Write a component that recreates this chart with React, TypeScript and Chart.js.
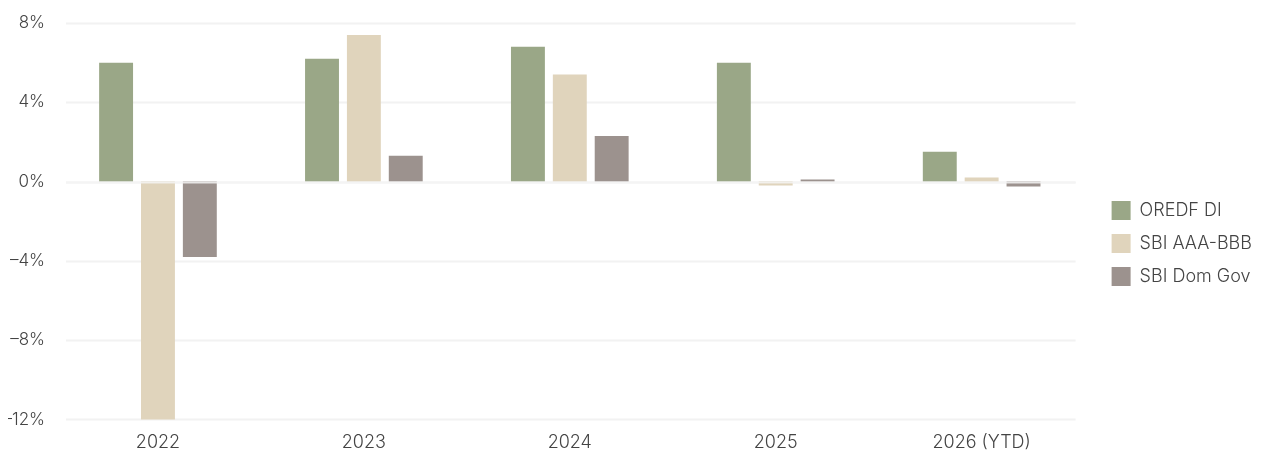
import React, { useEffect, useRef } from "react";
import { Chart, registerables } from "chart.js";

Chart.register(...registerables);

const categories = ["2022", "2023", "2024", "2025", "2026 (YTD)"];
const oredfDI = [6.0, 6.2, 6.8, 6.0, 1.5];
const sbiAAABBB = [-12.3, 7.4, 5.4, -0.2, 0.2];
const sbiDomGov = [-3.8, 1.3, 2.3, 0.1, -0.25];
const yTicks = [-12, -8, -4, 0, 4, 8];

const seriesNames = ["OREDF DI", "SBI AAA-BBB", "SBI Dom Gov"];
const seriesColors = ["#9AA787", "#E0D4BC", "#9C928E"];

const LEGEND_GAP = 13;

const gridPlugin = {
  id: "customGrid",
  beforeLayout(chart: any) {
    const lg = chart.legend;
    if (lg && !lg._patched) {
      lg._patched = true;
      const origFit = lg.fit.bind(lg);
      lg.fit = function () {
        origFit();
        this.width += LEGEND_GAP;
      };
      const origDraw = lg.draw.bind(lg);
      lg.draw = function (...args: any[]) {
        const ctx = this.ctx;
        ctx.save();
        ctx.translate(LEGEND_GAP, 0);
        origDraw(...args);
        ctx.restore();
      };
    }
  },
  beforeDatasetsDraw(chart: any) {
    const { ctx, chartArea, scales } = chart;
    const y = scales.y;
    ctx.save();
    ctx.strokeStyle = "#F2F2F2";
    ctx.lineWidth = 2;
    yTicks.forEach((v) => {
      const py = Math.round(y.getPixelForValue(v)) + 0.5;
      ctx.beginPath();
      ctx.moveTo(chartArea.left + 11, py);
      ctx.lineTo(chartArea.right - 9, py);
      ctx.stroke();
    });
    ctx.restore();
  },
  afterDatasetsDraw(chart: any) {
    const { ctx, chartArea, scales } = chart;
    const y = scales.y;
    ctx.save();
    ctx.strokeStyle = "rgba(245,245,245,0.85)";
    ctx.lineWidth = 2;
    const py = Math.round(y.getPixelForValue(0)) + 0.5;
    ctx.beginPath();
    ctx.moveTo(chartArea.left + 11, py);
    ctx.lineTo(chartArea.right - 9, py);
    ctx.stroke();
    ctx.restore();
  },
};

const FONT = { family: "Inter", size: 18, weight: 300 } as any;

export default function App() {
  const ref = useRef<HTMLCanvasElement>(null);
  useEffect(() => {
    if (!ref.current) return;
    const values = [oredfDI, sbiAAABBB, sbiDomGov];
    const chart = new Chart(ref.current, {
      type: "bar",
      data: {
        labels: categories,
        datasets: values.map((d, i) => ({
          label: seriesNames[i],
          data: d,
          backgroundColor: seriesColors[i],
          borderWidth: 0,
          barPercentage: 0.81,
          categoryPercentage: 0.61,
        })),
      },
      options: {
        animation: false,
        responsive: true,
        maintainAspectRatio: false,
        layout: { padding: { top: 15, right: 0, bottom: 0, left: 0 } },
        plugins: {
          tooltip: { enabled: false },
          legend: {
            position: "right",
            align: "center",
            title: { display: true, text: " ", padding: 1, font: { size: 4 } },
            labels: {
              boxWidth: 19,
              boxHeight: 19,
              padding: 14,
              color: "#444",
              font: FONT,
            },
          },
        },
        scales: {
          x: {
            grid: { display: false },
            border: { display: false },
            ticks: {
              color: "#444",
              padding: 4,
              font: FONT,
            },
          },
          y: {
            min: -12,
            max: 8,
            grid: { display: false },
            border: { display: false },
            afterFit: (axis: any) => {
              axis.width = 47;
            },
            afterBuildTicks: (axis: any) => {
              axis.ticks = yTicks.map((v) => ({ value: v }));
            },
            ticks: {
              color: "#444",
              padding: 2,
              font: { ...FONT, size: 17 },
              callback: (v: any) => (Number(v) < 0 ? "\u2013" + Math.abs(Number(v)) : String(v)) + "%",
            },
          },
        },
      },
      plugins: [gridPlugin],
    });
    return () => chart.destroy();
  }, []);
  return (
    <div style={{ width: "100%", height: 449, position: "relative" }}>
      <canvas ref={ref} />
    </div>
  );
}
